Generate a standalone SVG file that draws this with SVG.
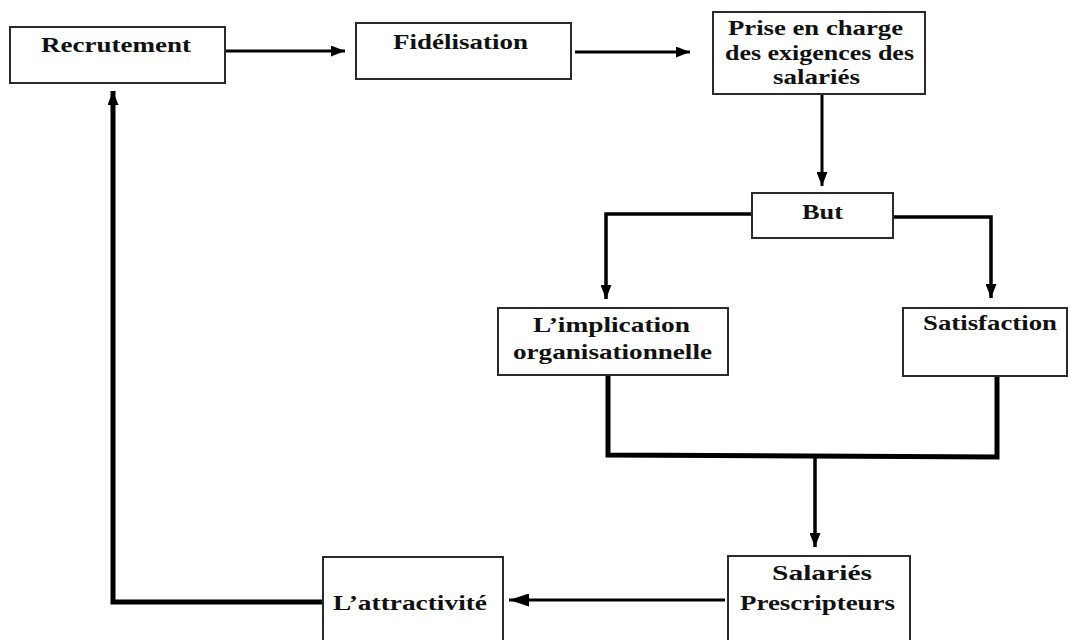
<svg xmlns="http://www.w3.org/2000/svg" width="1070" height="640" viewBox="0 0 1070 640">
  <style>
    .box { fill: #ffffff; stroke: #2b2b2b; stroke-width: 2; }
    .lbl { font-family: "Liberation Serif", "Times New Roman", serif; font-weight: bold; font-size: 22px; fill: #111111; text-anchor: middle; }
    .wire { fill: none; stroke: #000000; stroke-linejoin: miter; }
    .thin { stroke-width: 3; }
    .mid { stroke-width: 3.5; }
    .thick { stroke-width: 5; }
  </style>
  <defs>
    <marker id="arrow" markerUnits="userSpaceOnUse" viewBox="0 0 14 11" markerWidth="14" markerHeight="11" refX="14" refY="5.5" orient="auto">
      <path d="M0,0 L14,5.5 L0,11 z" fill="#000"/>
    </marker>
    <marker id="arrowWide" markerUnits="userSpaceOnUse" viewBox="0 0 20 13" markerWidth="20" markerHeight="13" refX="20" refY="6.5" orient="auto">
      <path d="M0,0 L20,6.5 L0,13 z" fill="#000"/>
    </marker>
  </defs>

  <rect width="1070" height="640" fill="#ffffff"/>

  <!-- connectors -->
  <g id="connectors">
    <path class="wire thin" d="M224,51 H345" marker-end="url(#arrow)"/>
    <path class="wire thin" d="M575,52 H690" marker-end="url(#arrow)"/>
    <path class="wire thin" d="M822,94 V186" marker-end="url(#arrow)"/>
    <path class="wire mid" d="M752,214 H606 V299" marker-end="url(#arrow)"/>
    <path class="wire mid" d="M893,217 H991 V298" marker-end="url(#arrow)"/>
    <path class="wire thick" d="M608,376 V455 L997,457 V377"/>
    <path class="wire mid" d="M815,456 V547" marker-end="url(#arrow)"/>
    <path class="wire thin" d="M725,600 H509" marker-end="url(#arrowWide)"/>
    <path class="wire thick" d="M323,602 H113 V91" marker-end="url(#arrow)"/>
  </g>

  <!-- nodes -->
  <g id="recrutement">
    <rect class="box" x="10" y="27" width="215" height="56"/>
    <text class="lbl" x="116" y="52" textLength="150" lengthAdjust="spacingAndGlyphs">Recrutement</text>
  </g>
  <g id="fidelisation">
    <rect class="box" x="356" y="23" width="215" height="56"/>
    <text class="lbl" x="460.5" y="49" textLength="135" lengthAdjust="spacingAndGlyphs">Fidélisation</text>
  </g>
  <g id="prise-en-charge">
    <rect class="box" x="713" y="12" width="212" height="82"/>
    <text class="lbl" x="815.5" y="35" textLength="175" lengthAdjust="spacingAndGlyphs">Prise en charge</text>
    <text class="lbl" x="819.5" y="60" textLength="189" lengthAdjust="spacingAndGlyphs">des exigences des</text>
    <text class="lbl" x="816.5" y="84" textLength="87" lengthAdjust="spacingAndGlyphs">salariés</text>
  </g>
  <g id="but">
    <rect class="box" x="752" y="193" width="141" height="45"/>
    <text class="lbl" x="822.5" y="219" textLength="41" lengthAdjust="spacingAndGlyphs">But</text>
  </g>
  <g id="implication">
    <rect class="box" x="498" y="308" width="230" height="67"/>
    <text class="lbl" x="611.5" y="332" textLength="157" lengthAdjust="spacingAndGlyphs">L’implication</text>
    <text class="lbl" x="612.5" y="359" textLength="199" lengthAdjust="spacingAndGlyphs">organisationnelle</text>
  </g>
  <g id="satisfaction">
    <rect class="box" x="903" y="308" width="164" height="68"/>
    <text class="lbl" x="990" y="330" textLength="134" lengthAdjust="spacingAndGlyphs">Satisfaction</text>
  </g>
  <g id="salaries-prescripteurs">
    <rect class="box" x="728" y="556" width="182" height="100"/>
    <text class="lbl" x="822" y="580" textLength="100" lengthAdjust="spacingAndGlyphs">Salariés</text>
    <text class="lbl" x="817.5" y="610" textLength="155" lengthAdjust="spacingAndGlyphs">Prescripteurs</text>
  </g>
  <g id="attractivite">
    <rect class="box" x="323" y="557" width="180" height="100"/>
    <text class="lbl" x="410" y="610" textLength="154" lengthAdjust="spacingAndGlyphs">L’attractivité</text>
  </g>
</svg>
